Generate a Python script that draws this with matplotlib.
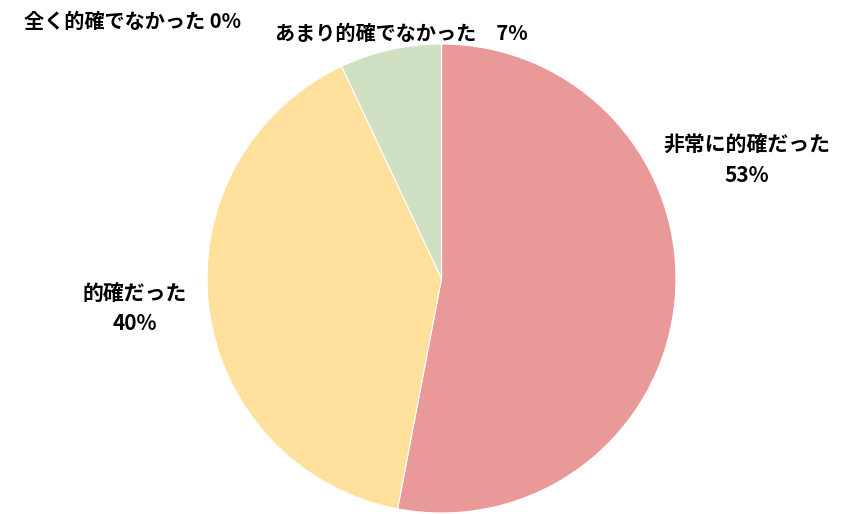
import matplotlib
matplotlib.use("Agg")
import matplotlib.pyplot as plt

plt.rcParams['font.family'] = ['Noto Sans CJK JP', 'DejaVu Sans']

categories = ["非常に的確だった", "的確だった", "あまり的確でなかった", "全く的確でなかった"]
values = [53, 40, 7, 0]
colors = ["#EA9999", "#FFE09C", "#D0E1C3", "#B4C7E7"]

W, H = 858, 514
fig = plt.figure(figsize=(W / 100, H / 100), dpi=100)
cx, cy, r = 441.5, 278.5, 234.5
ax = fig.add_axes([(cx - r) / W, (H - cy - r) / H, 2 * r / W, 2 * r / H])
ax.pie(values, colors=colors, startangle=90, counterclock=False, radius=1,
       wedgeprops=dict(edgecolor="white", linewidth=0.8))
ax.set_xlim(-1, 1)
ax.set_ylim(-1, 1)
ax.set_aspect('equal')
ax.axis('off')

def ftext(x, y, s, fs=15, ls=1.55):
    fig.text(x / W, 1 - y / H, s, ha='center', va='center', fontsize=fs,
             fontweight='bold', color='#000000', linespacing=ls)

ftext(747, 160, f"{categories[0]}\n{values[0]}%")
ftext(135, 308.5, f"{categories[1]}\n{values[1]}%")
ftext(401, 33, f"{categories[2]}　{values[2]}%", fs=14.5)
ftext(133, 21, f"{categories[3]} {values[3]}%", fs=14.5)

fig.savefig("out.png", dpi=100)
